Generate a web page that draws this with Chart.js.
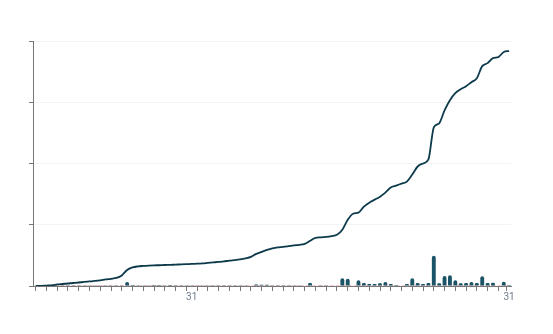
<!DOCTYPE html>
<html>
<head>
<meta charset="utf-8">
<script src="https://cdn.jsdelivr.net/npm/chart.js@4.4.1/dist/chart.umd.min.js"></script>
<style>
  html, body { margin: 0; padding: 0; background: #fff; }
  #wrap { width: 553px; height: 334px; }
</style>
</head>
<body>
<div id="wrap"><canvas id="cases_chart"></canvas></div>
<script>
// Days, 2 Jan to 31 Mar
const dates = [
  'Jan 2','Jan 3','Jan 4','Jan 5','Jan 6','Jan 7','Jan 8','Jan 9','Jan 10','Jan 11',
  'Jan 12','Jan 13','Jan 14','Jan 15','Jan 16','Jan 17','Jan 18','Jan 19','Jan 20','Jan 21',
  'Jan 22','Jan 23','Jan 24','Jan 25','Jan 26','Jan 27','Jan 28','Jan 29','Jan 30','Jan 31',
  'Feb 1','Feb 2','Feb 3','Feb 4','Feb 5','Feb 6','Feb 7','Feb 8','Feb 9','Feb 10',
  'Feb 11','Feb 12','Feb 13','Feb 14','Feb 15','Feb 16','Feb 17','Feb 18','Feb 19','Feb 20',
  'Feb 21','Feb 22','Feb 23','Feb 24','Feb 25','Feb 26','Feb 27','Feb 28',
  'Mar 1','Mar 2','Mar 3','Mar 4','Mar 5','Mar 6','Mar 7','Mar 8','Mar 9','Mar 10',
  'Mar 11','Mar 12','Mar 13','Mar 14','Mar 15','Mar 16','Mar 17','Mar 18','Mar 19','Mar 20',
  'Mar 21','Mar 22','Mar 23','Mar 24','Mar 25','Mar 26','Mar 27','Mar 28','Mar 29','Mar 30',
  'Mar 31'
];

// running total
const total = [
  0, 3, 7, 11, 25, 33, 41, 49, 57, 66,
  74, 82, 93, 107, 118, 131, 172, 262, 303, 320,
  328, 334, 338, 339, 343, 344, 349, 352, 356, 361,
  364, 369, 377, 385, 393, 402, 415, 423, 434, 451,
  475, 525, 557, 590, 615, 631, 639, 651, 664, 672,
  688, 738, 787, 795, 803, 816, 836, 918, 1082, 1180,
  1197, 1295, 1361, 1410, 1459, 1525, 1607, 1639, 1672, 1705,
  1820, 1951, 2000, 2066, 2590, 2656, 2869, 3033, 3148, 3213,
  3262, 3328, 3393, 3590, 3639, 3721, 3738, 3820, 3836
];

// new per day
const daily = [
  0, 3, 4, 4, 5, 4, 4, 4, 4, 5,
  4, 4, 5, 5, 4, 5, 6, 66, 16, 4,
  3, 3, 2, 2, 3, 2, 3, 3, 3, 3,
  3, 3, 4, 4, 4, 5, 5, 4, 5, 6,
  8, 25, 20, 20, 13, 6, 5, 6, 6, 5,
  8, 49, 8, 6, 6, 8, 10, 126, 120, 8,
  93, 49, 33, 33, 44, 66, 33, 16, 8, 33,
  126, 49, 33, 49, 492, 44, 164, 175, 93, 44,
  49, 66, 49, 159, 49, 54, 8, 70, 16
];

// deaths, flat at zero over the period
const deaths = new Array(dates.length).fill(0);

// tick marks every other day, plus the last day
const tickDays = [];
for (let i = 1; i < dates.length; i += 2) tickDays.push(i);
tickDays.push(dates.length - 1);

function pts(arr) {
  return arr.map(function (v, i) { return { x: i, y: v }; });
}

const ctx = document.getElementById('cases_chart').getContext('2d');
const chart = new Chart(ctx, {
  data: {
    datasets: [
      {
        type: 'line',
        label: 'Total',
        data: pts(total),
        borderColor: '#0d3a4b',
        borderWidth: 1.8,
        pointRadius: 0,
        tension: 0.4,
        cubicInterpolationMode: 'monotone',
        order: 0
      },
      {
        type: 'line',
        label: 'Deaths',
        data: pts(deaths),
        borderColor: '#f6bcbc',
        borderWidth: 1.5,
        borderDash: [4, 2],
        pointRadius: 0,
        order: 2
      },
      {
        type: 'bar',
        label: 'New',
        data: pts(daily),
        backgroundColor: '#1b5466',
        borderRadius: 2,
        borderSkipped: 'bottom',
        order: 1
      }
    ]
  },
  options: {
    responsive: true,
    maintainAspectRatio: false,
    animation: false,
    layout: { padding: { left: 29, top: 41, right: 42, bottom: 31 } },
    plugins: {
      legend: { display: false },
      tooltip: { enabled: false }
    },
    scales: {
      x: {
        type: 'linear',
        min: -0.5,
        max: dates.length - 1 + 0.35,
        offset: false,
        afterBuildTicks: function (scale) {
          scale.ticks = tickDays.map(function (v) { return { value: v }; });
        },
        ticks: {
          autoSkip: false,
          maxRotation: 0,
          padding: 0,
          color: '#6e7d8f',
          font: { family: 'Roboto', size: 10 },
          callback: function (v) {
            const d = dates[v];
            return d && d.endsWith(' 31') ? '31' : '';
          }
        },
        grid: {
          drawOnChartArea: false,
          tickLength: 5,
          tickColor: '#777'
        },
        border: { color: '#777', width: 1 }
      },
      y: {
        min: 0,
        max: 4000,
        ticks: { stepSize: 1000, display: false },
        grid: {
          color: '#f3f3f3',
          tickColor: '#777',
          tickLength: 4
        },
        border: { color: '#777', width: 1 }
      }
    }
  }
});
</script>
</body>
</html>
